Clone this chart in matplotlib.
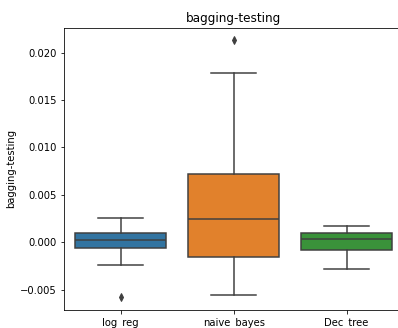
""" Bagging test boxplot """
import matplotlib
matplotlib.use('Agg')
import matplotlib.pyplot as plt

# data
categories = ['log_reg', 'naive_bayes', 'Dec_tree']
medians = [0.00024, 0.00242, 0.00035]
q1 = [-0.00063, -0.00152, -0.00081]
q3 = [0.00095, 0.00716, 0.00095]
whisk_lo = [-0.00239, -0.00555, -0.00281]
whisk_hi = [0.00256, 0.0179, 0.00168]
fliers = [[-0.00579], [0.0213], []]

colors = ['#3274a1', '#e1812c', '#3a923a']
line_color = '#3f3f3f'

plt.rcParams['font.size'] = 10
fig = plt.figure(figsize=(398 / 72, 328 / 72), dpi=72)
ax = fig.add_axes([0.161, 0.055, 0.852, 0.861])

stats = []
for i, name in enumerate(categories):
    stats.append({'label': name, 'med': medians[i], 'q1': q1[i], 'q3': q3[i],
                  'whislo': whisk_lo[i], 'whishi': whisk_hi[i], 'fliers': fliers[i]})

bp = ax.bxp(stats, positions=range(len(categories)), widths=0.8, patch_artist=True,
            boxprops=dict(edgecolor=line_color, linewidth=1.5),
            medianprops=dict(color=line_color, linewidth=1.5),
            whiskerprops=dict(color=line_color, linewidth=1.5),
            capprops=dict(color=line_color, linewidth=1.5),
            flierprops=dict(marker='d', markerfacecolor=line_color,
                            markeredgecolor=line_color, markersize=5))
for patch, c in zip(bp['boxes'], colors):
    patch.set_facecolor(c)

ax.set_xlim(-0.5, 2.5)
ax.set_ylabel('bagging-testing')
ax.set_title('bagging-testing')
ax.set_xticks(range(len(categories)))
ax.set_xticklabels(categories)

fig.savefig('out.png', dpi=72)
